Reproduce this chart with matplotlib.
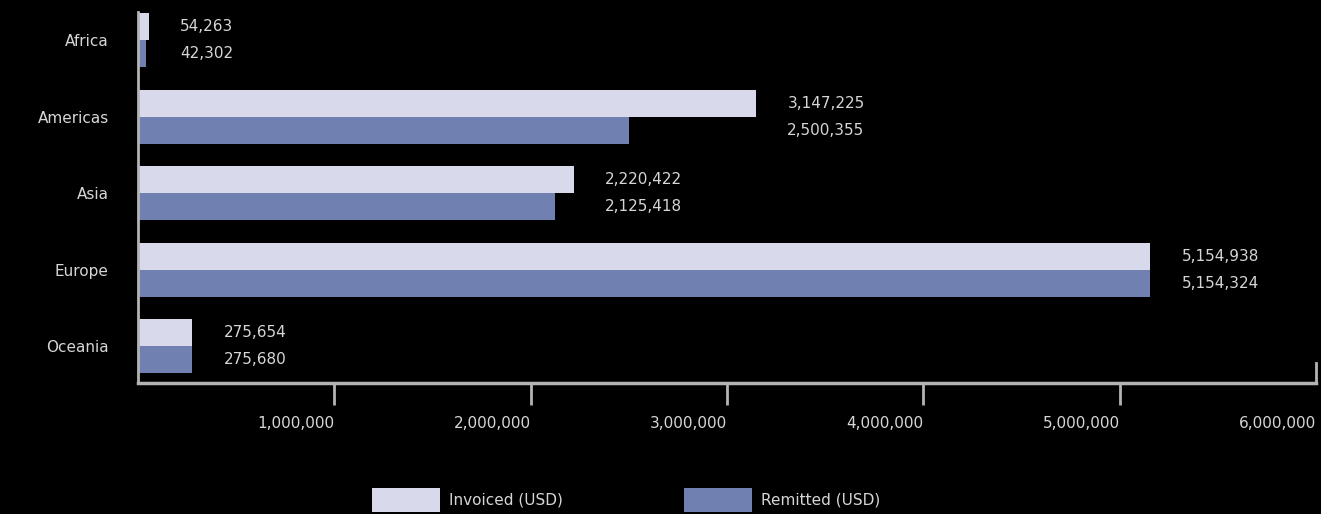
import numpy as np
import matplotlib
matplotlib.use("Agg")
import matplotlib.pyplot as plt
from matplotlib.patches import Patch

# -------------------- DATA --------------------
regions = ["Africa", "Americas", "Asia", "Europe", "Oceania"]
invoiced = [54263, 3147225, 2220422, 5154938, 275654]
remitted = [42302, 2500355, 2125418, 5154324, 275680]
x_ticks = [1000000, 2000000, 3000000, 4000000, 5000000, 6000000]

# -------------------- STYLE --------------------
BG = "black"
TXT = "#d6d6d6"
AXIS = "#b4b4b4"
C_INV = "#d9d9ec"
C_REM = "#7080b0"
FS = 11

fig = plt.figure(figsize=(13.21, 5.14), dpi=100, facecolor=BG)
ax = fig.add_axes([138 / 1321, 131 / 514, (1316 - 138) / 1321, (383 - 12) / 514])
ax.set_facecolor(BG)

y = np.arange(len(regions))
h = 0.353
ax.barh(y - h / 2, invoiced, height=h, color=C_INV, edgecolor="none")
ax.barh(y + h / 2, remitted, height=h, color=C_REM, edgecolor="none")

# value labels to the right of each pair
off = 160000
for i in range(len(regions)):
    xl = max(invoiced[i], remitted[i]) + off
    ax.text(xl, y[i] - h / 2, f"{invoiced[i]:,}", color=TXT, fontsize=FS, va="center", ha="left")
    ax.text(xl, y[i] + h / 2, f"{remitted[i]:,}", color=TXT, fontsize=FS, va="center", ha="left")

ax.set_xlim(0, 6000000)
ax.set_ylim(4.48, -0.37)

ax.set_yticks(y)
ax.set_yticklabels(regions, color=TXT, fontsize=FS)
ax.tick_params(axis="y", length=0, pad=21)

ax.set_xticks(x_ticks)
ax.set_xticklabels([f"{v:,}" for v in x_ticks], color=TXT, fontsize=FS)
for lbl in ax.get_xticklabels():
    lbl.set_ha("right")
ax.tick_params(axis="x", direction="out", length=16, width=2, color=AXIS, pad=8)
ax.xaxis.get_major_ticks()[-1].tick1line.set_visible(False)

ax.spines["top"].set_visible(False)
ax.spines["left"].set_color(AXIS)
ax.spines["left"].set_linewidth(2)
ax.spines["bottom"].set_color(AXIS)
ax.spines["bottom"].set_linewidth(2.5)
ax.spines["right"].set_color(AXIS)
ax.spines["right"].set_linewidth(2)
ax.spines["right"].set_bounds(4.22, 4.48)

handles = [Patch(facecolor=C_INV, edgecolor="none", label="Invoiced (USD)"),
           Patch(facecolor=C_REM, edgecolor="none", label="Remitted (USD)")]
fig.legend(handles=handles, loc="upper left", bbox_to_anchor=(372 / 1321, 26 / 514),
           ncol=2, frameon=False, fontsize=FS, labelcolor=TXT, borderpad=0, borderaxespad=0,
           handlelength=4.45, handleheight=2, handletextpad=0.6, columnspacing=7.9)

fig.savefig("out.png", dpi=100, facecolor=BG)
